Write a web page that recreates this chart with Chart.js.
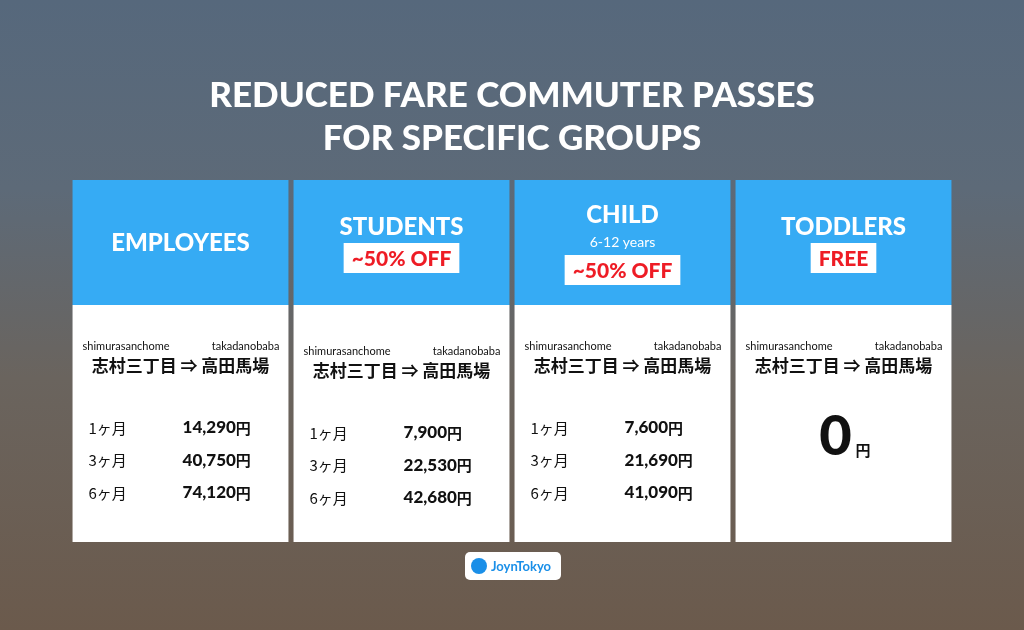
<!DOCTYPE html>
<html><head><meta charset="utf-8">
<script src="https://cdn.jsdelivr.net/npm/chart.js@4/dist/chart.umd.min.js"></script>
<style>
html,body{margin:0;padding:0;width:1024px;height:630px;overflow:hidden}
body{background:linear-gradient(180deg,#56687c 0%,#5d6a78 30%,#6a645e 60%,#6b5a4c 100%)}
#wrap{position:relative;width:1024px;height:630px}
</style></head>
<body>
<div id="wrap"><canvas id="c" width="1024" height="630"></canvas></div>
<script>
// Card data
const groups = ['EMPLOYEES', 'STUDENTS', 'CHILD', 'TODDLERS'];
const discounts = ['', '~50% OFF', '~50% OFF', 'FREE'];
const subtitles = ['', '', '6-12 years', ''];
const periods = ['1ヶ月', '3ヶ月', '6ヶ月'];
const fares1 = ['14,290円', '7,900円', '7,600円', null];
const fares3 = ['40,750円', '22,530円', '21,690円', null];
const fares6 = ['74,120円', '42,680円', '41,090円', null];
const headerSpan = [[180, 305], [180, 305], [180, 305], [180, 305]];
const bodySpan = [[305, 542], [305, 542], [305, 542], [305, 542]];

const textPlugin = {
  id: 'cardText',
  afterDatasetsDraw(chart) {
    const ctx = chart.ctx;
    const y = chart.scales.y;
    const bars = chart.getDatasetMeta(0).data;
    ctx.save();
    ctx.textBaseline = 'middle';
    ctx.textAlign = 'center';
    ctx.fillStyle = '#ffffff';
    ctx.font = '900 35px Lato';
    ctx.fillText('REDUCED FARE COMMUTER PASSES', 512, y.getPixelForValue(96));
    ctx.fillText('FOR SPECIFIC GROUPS', 512, y.getPixelForValue(139));
    bars.forEach((bar, i) => {
      const cx = bar.x;
      const left = bar.x - bar.width / 2;
      const right = bar.x + bar.width / 2;
      const hasBadge = discounts[i] !== '';
      const hasSub = subtitles[i] !== '';
      const titleY = hasSub ? 215 : hasBadge ? 227 : 243;
      ctx.fillStyle = '#fff';
      ctx.font = '900 24px Lato';
      ctx.fillText(groups[i], cx, titleY);
      if (hasSub) {
        ctx.font = '14px Lato';
        ctx.fillText(subtitles[i], cx, 242);
      }
      if (hasBadge) {
        const by = hasSub ? 270 : 258;
        ctx.font = '900 21px Lato';
        const w = ctx.measureText(discounts[i]).width + 16;
        ctx.fillStyle = '#fff';
        ctx.fillRect(cx - w / 2, by - 15, w, 30);
        ctx.fillStyle = '#ee1c25';
        ctx.fillText(discounts[i], cx, by + 1);
      }
      const off = i === 1 ? 5 : 0;
      ctx.fillStyle = '#111';
      ctx.font = '11px Lato';
      ctx.textAlign = 'left';
      ctx.fillText('shimurasanchome', left + 10, 346 + off);
      ctx.textAlign = 'right';
      ctx.fillText('takadanobaba', right - 9, 346 + off);
      ctx.textAlign = 'center';
      ctx.font = 'bold 17px "Noto Sans CJK JP"';
      ctx.fillText('志村三丁目 ⇒ 高田馬場', cx, 366 + off);
      if (fares1[i] === null) {
        ctx.font = '900 56px Lato';
        ctx.fillText('0', cx - 8, 437);
        ctx.font = 'bold 15px "Noto Sans CJK JP"';
        ctx.textAlign = 'left';
        ctx.fillText('円', cx + 12, 450);
        ctx.textAlign = 'center';
      } else {
        const rows = [fares1[i], fares3[i], fares6[i]];
        rows.forEach((v, r) => {
          const ry = 428 + off + r * 32.5;
          ctx.textAlign = 'left';
          ctx.font = '15px "Noto Sans CJK JP"';
          ctx.fillText(periods[r], left + 16, ry);
          ctx.font = '900 17px Lato';
          ctx.fillText(v.replace('円', ''), left + 110, ry);
          const w = ctx.measureText(v.replace('円', '')).width;
          ctx.font = 'bold 15px "Noto Sans CJK JP"';
          ctx.fillText('円', left + 110 + w, ry);
        });
        ctx.textAlign = 'center';
      }
    });
    // logo
    ctx.fillStyle = '#fff';
    ctx.beginPath();
    ctx.roundRect(465, 552, 96, 28, 5);
    ctx.fill();
    ctx.fillStyle = '#1a8fe8';
    ctx.beginPath();
    ctx.arc(479, 566, 8, 0, Math.PI * 2);
    ctx.fill();
    ctx.font = 'bold 13px Lato';
    ctx.textAlign = 'left';
    ctx.fillText('JoynTokyo', 491, 567);
    ctx.restore();
  }
};

new Chart(document.getElementById('c'), {
  type: 'bar',
  data: {
    labels: groups,
    datasets: [
      { data: headerSpan, backgroundColor: '#36abf4', borderWidth: 0, borderSkipped: false,
        barPercentage: 1, categoryPercentage: 0.977, grouped: false },
      { data: bodySpan, backgroundColor: '#ffffff', borderWidth: 0, borderSkipped: false,
        barPercentage: 1, categoryPercentage: 0.977, grouped: false }
    ]
  },
  options: {
    responsive: false,
    animation: false,
    layout: { padding: { left: 70, right: 70, top: 0, bottom: 0 } },
    plugins: { legend: { display: false }, tooltip: { enabled: false } },
    scales: {
      x: { display: false },
      y: { display: false, min: 0, max: 630, reverse: true }
    }
  },
  plugins: [textPlugin]
});
</script>
</body></html>
